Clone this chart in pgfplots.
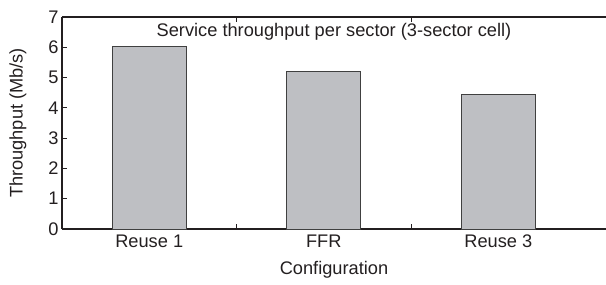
\documentclass[border=0pt]{standalone}
\usepackage{pgfplots}
\pgfplotsset{compat=1.18}
\usepackage{fontspec}
\setmainfont{Liberation Sans}
\definecolor{barfill}{RGB}{190,191,195}
\definecolor{txt}{RGB}{35,31,32}
\begin{document}
\begin{tikzpicture}
\begin{axis}[
  scale only axis,
  width=544bp, height=212bp,
  xmin=-0.5, xmax=2.617,
  ymin=0, ymax=7,
  axis x line=box,
  axis y line=left,
  axis line style={-, line width=1.5bp, color=txt},
  ytick={0,1,...,7},
  xtick={0,1,2},
  xticklabels={Reuse 1,FFR,Reuse 3},
  major x tick style={draw=none},
  minor xtick={0.5,1.5},
  minor tick length=5bp,
  major tick length=5bp,
  tick align=inside,
  tick style={color=txt, line width=0.8bp},
  every tick label/.append style={font=\fontsize{18.3}{21}\selectfont, text=txt},
  xticklabel style={yshift=-2bp},
  /pgf/number format/assume math mode=true,
  ylabel={Throughput (Mb/s)},
  xlabel={Configuration},
  every axis y label/.style={at={(axis description cs:-0.081,0.5)}, anchor=center, rotate=90, font=\fontsize{18.3}{21}\selectfont, text=txt},
  every axis x label/.style={at={(axis description cs:0.5,0)}, anchor=center, yshift=-41bp, font=\fontsize{18.3}{21}\selectfont, text=txt},
  clip=false,
]
\addplot[ybar, bar width=74bp, fill=barfill, draw=black!75, line width=0.8bp]
  coordinates {(0,6.02) (1,5.21) (2,4.43)};
\node[anchor=north, font=\fontsize{18.3}{21}\selectfont, text=txt] at (rel axis cs:0.5,1) [yshift=-3bp] {Service throughput per sector (3-sector cell)};
\coordinate (bl) at (rel axis cs:0,0);
\coordinate (tr) at (rel axis cs:1,1);
\end{axis}
\pgfresetboundingbox
\path ([shift={(-62bp,-56bp)}]bl) rectangle ([yshift=17bp]tr);
\end{tikzpicture}
\end{document}
